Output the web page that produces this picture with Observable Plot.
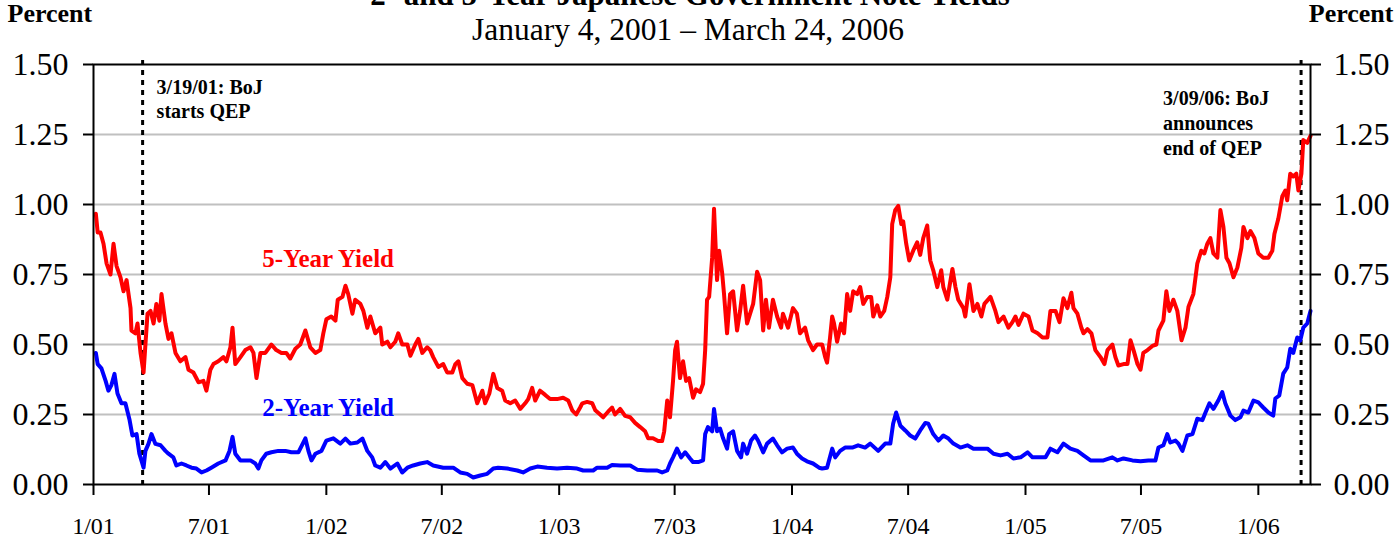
<!DOCTYPE html>
<html><head><meta charset="utf-8">
<script src="https://cdn.jsdelivr.net/npm/d3@7"></script>
<script src="https://cdn.jsdelivr.net/npm/@observablehq/plot@0.6"></script>
<style>body{margin:0;background:#fff}</style>
</head><body><div id="chart"></div>
<script>
// Dates are decimal years
const fiveYearT = [2001.010,2001.018,2001.030,2001.043,2001.056,2001.073,2001.086,2001.099,2001.116,2001.129,2001.142,2001.159,2001.163,2001.180,2001.189,2001.202,2001.215,2001.223,2001.232,2001.245,2001.258,2001.270,2001.283,2001.292,2001.309,2001.322,2001.335,2001.352,2001.373,2001.395,2001.408,2001.429,2001.451,2001.472,2001.485,2001.502,2001.515,2001.536,2001.558,2001.571,2001.588,2001.597,2001.609,2001.631,2001.652,2001.674,2001.687,2001.700,2001.717,2001.738,2001.764,2001.785,2001.807,2001.828,2001.845,2001.867,2001.888,2001.910,2001.931,2001.953,2001.974,2001.987,2002.000,2002.021,2002.039,2002.049,2002.069,2002.082,2002.094,2002.112,2002.124,2002.146,2002.159,2002.176,2002.189,2002.210,2002.232,2002.240,2002.262,2002.275,2002.296,2002.309,2002.326,2002.348,2002.361,2002.382,2002.395,2002.412,2002.433,2002.446,2002.459,2002.481,2002.502,2002.519,2002.541,2002.554,2002.567,2002.584,2002.605,2002.627,2002.648,2002.670,2002.682,2002.700,2002.717,2002.734,2002.755,2002.768,2002.790,2002.811,2002.833,2002.854,2002.867,2002.884,2002.897,2002.918,2002.940,2002.961,2002.991,2003.017,2003.039,2003.056,2003.073,2003.090,2003.099,2003.120,2003.142,2003.155,2003.176,2003.189,2003.210,2003.227,2003.240,2003.262,2003.283,2003.305,2003.326,2003.348,2003.369,2003.382,2003.403,2003.425,2003.442,2003.451,2003.464,2003.476,2003.489,2003.498,2003.506,2003.519,2003.532,2003.545,2003.558,2003.575,2003.588,2003.605,2003.618,2003.627,2003.635,2003.644,2003.657,2003.665,2003.674,2003.678,2003.687,2003.700,2003.708,2003.721,2003.734,2003.747,2003.764,2003.777,2003.790,2003.807,2003.820,2003.833,2003.850,2003.863,2003.876,2003.888,2003.901,2003.918,2003.936,2003.953,2003.961,2003.983,2004.004,2004.021,2004.034,2004.056,2004.069,2004.090,2004.107,2004.129,2004.142,2004.150,2004.163,2004.172,2004.180,2004.193,2004.210,2004.223,2004.236,2004.249,2004.262,2004.279,2004.292,2004.305,2004.322,2004.339,2004.348,2004.365,2004.378,2004.395,2004.408,2004.421,2004.429,2004.442,2004.455,2004.468,2004.476,2004.489,2004.502,2004.519,2004.536,2004.549,2004.562,2004.579,2004.592,2004.605,2004.622,2004.639,2004.648,2004.665,2004.687,2004.700,2004.712,2004.734,2004.742,2004.760,2004.777,2004.794,2004.811,2004.824,2004.850,2004.871,2004.884,2004.906,2004.927,2004.944,2004.957,2004.970,2004.991,2005.013,2005.030,2005.052,2005.073,2005.094,2005.107,2005.129,2005.146,2005.163,2005.180,2005.197,2005.206,2005.223,2005.240,2005.249,2005.266,2005.283,2005.300,2005.322,2005.339,2005.352,2005.373,2005.386,2005.399,2005.421,2005.438,2005.451,2005.464,2005.481,2005.494,2005.506,2005.524,2005.545,2005.562,2005.571,2005.592,2005.605,2005.618,2005.635,2005.652,2005.670,2005.687,2005.700,2005.721,2005.738,2005.755,2005.768,2005.781,2005.794,2005.807,2005.824,2005.837,2005.850,2005.863,2005.876,2005.893,2005.910,2005.927,2005.936,2005.953,2005.966,2005.983,2006.000,2006.021,2006.043,2006.060,2006.069,2006.086,2006.103,2006.116,2006.124,2006.137,2006.150,2006.163,2006.172,2006.185,2006.193,2006.210,2006.224];
const fiveYearV = [0.967,0.90,0.90,0.86,0.79,0.75,0.86,0.78,0.74,0.69,0.73,0.63,0.55,0.54,0.575,0.47,0.40,0.50,0.61,0.62,0.575,0.645,0.585,0.68,0.575,0.52,0.54,0.47,0.44,0.455,0.41,0.40,0.365,0.37,0.335,0.41,0.43,0.44,0.455,0.44,0.49,0.56,0.43,0.455,0.48,0.49,0.47,0.38,0.47,0.47,0.50,0.48,0.47,0.47,0.45,0.485,0.50,0.55,0.49,0.47,0.48,0.54,0.59,0.60,0.585,0.66,0.67,0.71,0.68,0.61,0.66,0.645,0.62,0.56,0.60,0.54,0.56,0.50,0.51,0.49,0.51,0.54,0.50,0.50,0.46,0.50,0.52,0.47,0.49,0.48,0.455,0.42,0.43,0.40,0.40,0.43,0.44,0.38,0.36,0.355,0.29,0.335,0.29,0.325,0.395,0.345,0.335,0.30,0.29,0.30,0.27,0.29,0.305,0.345,0.30,0.335,0.32,0.305,0.305,0.31,0.30,0.265,0.25,0.275,0.29,0.295,0.29,0.265,0.25,0.24,0.26,0.275,0.25,0.27,0.245,0.24,0.22,0.205,0.19,0.165,0.165,0.155,0.155,0.19,0.30,0.24,0.37,0.48,0.51,0.38,0.44,0.37,0.38,0.31,0.34,0.33,0.36,0.48,0.66,0.67,0.81,0.985,0.81,0.73,0.835,0.755,0.68,0.54,0.68,0.69,0.55,0.62,0.71,0.575,0.61,0.645,0.76,0.73,0.55,0.66,0.56,0.66,0.60,0.56,0.61,0.56,0.63,0.61,0.54,0.56,0.515,0.48,0.50,0.50,0.455,0.435,0.525,0.60,0.575,0.51,0.575,0.54,0.68,0.62,0.69,0.68,0.705,0.645,0.67,0.67,0.60,0.64,0.60,0.62,0.67,0.74,0.93,0.98,0.995,0.93,0.94,0.86,0.80,0.835,0.865,0.82,0.88,0.925,0.80,0.765,0.705,0.765,0.705,0.66,0.77,0.705,0.66,0.63,0.60,0.715,0.62,0.645,0.60,0.645,0.67,0.62,0.58,0.60,0.56,0.58,0.60,0.57,0.61,0.60,0.55,0.54,0.525,0.525,0.62,0.62,0.58,0.665,0.63,0.685,0.63,0.61,0.56,0.54,0.555,0.54,0.48,0.455,0.43,0.48,0.50,0.455,0.425,0.43,0.43,0.515,0.48,0.43,0.41,0.47,0.48,0.495,0.50,0.55,0.585,0.69,0.62,0.66,0.62,0.515,0.56,0.635,0.68,0.79,0.835,0.825,0.86,0.88,0.825,0.81,0.98,0.92,0.81,0.79,0.74,0.775,0.845,0.92,0.88,0.905,0.88,0.825,0.81,0.81,0.835,0.895,0.95,1.03,1.05,1.015,1.11,1.10,1.11,1.05,1.11,1.23,1.22,1.245];

const twoYearT = [2001.010,2001.018,2001.034,2001.052,2001.064,2001.077,2001.090,2001.103,2001.120,2001.137,2001.155,2001.167,2001.185,2001.197,2001.215,2001.223,2001.236,2001.249,2001.266,2001.288,2001.309,2001.322,2001.343,2001.356,2001.378,2001.399,2001.421,2001.442,2001.464,2001.485,2001.506,2001.536,2001.567,2001.584,2001.597,2001.609,2001.631,2001.652,2001.674,2001.695,2001.708,2001.721,2001.742,2001.764,2001.794,2001.824,2001.850,2001.880,2001.910,2001.923,2001.936,2001.953,2001.979,2002.000,2002.030,2002.060,2002.082,2002.103,2002.133,2002.155,2002.176,2002.197,2002.210,2002.232,2002.253,2002.275,2002.305,2002.326,2002.348,2002.373,2002.403,2002.433,2002.459,2002.502,2002.545,2002.575,2002.605,2002.631,2002.661,2002.691,2002.717,2002.738,2002.777,2002.820,2002.845,2002.876,2002.906,2002.948,2002.991,2003.034,2003.077,2003.103,2003.146,2003.163,2003.206,2003.227,2003.262,2003.305,2003.335,2003.378,2003.421,2003.442,2003.464,2003.476,2003.489,2003.506,2003.524,2003.541,2003.562,2003.575,2003.597,2003.618,2003.627,2003.639,2003.657,2003.665,2003.678,2003.691,2003.704,2003.721,2003.730,2003.747,2003.764,2003.781,2003.790,2003.807,2003.824,2003.841,2003.854,2003.876,2003.893,2003.918,2003.936,2003.957,2003.979,2004.004,2004.021,2004.043,2004.064,2004.090,2004.116,2004.129,2004.150,2004.172,2004.185,2004.206,2004.227,2004.258,2004.283,2004.313,2004.335,2004.369,2004.399,2004.421,2004.433,2004.446,2004.464,2004.485,2004.506,2004.528,2004.549,2004.571,2004.584,2004.605,2004.627,2004.648,2004.670,2004.691,2004.721,2004.751,2004.777,2004.807,2004.837,2004.863,2004.893,2004.923,2004.948,2004.979,2005.009,2005.030,2005.056,2005.086,2005.107,2005.137,2005.163,2005.193,2005.223,2005.249,2005.279,2005.309,2005.335,2005.373,2005.395,2005.421,2005.459,2005.494,2005.528,2005.558,2005.571,2005.592,2005.609,2005.622,2005.644,2005.657,2005.674,2005.695,2005.717,2005.738,2005.760,2005.773,2005.790,2005.807,2005.828,2005.845,2005.858,2005.880,2005.901,2005.923,2005.936,2005.957,2005.979,2006.000,2006.021,2006.043,2006.064,2006.073,2006.090,2006.107,2006.124,2006.137,2006.150,2006.167,2006.180,2006.193,2006.210,2006.224];
const twoYearV = [0.47,0.43,0.415,0.37,0.335,0.355,0.395,0.325,0.29,0.29,0.23,0.175,0.18,0.11,0.06,0.12,0.145,0.18,0.145,0.14,0.12,0.11,0.097,0.068,0.075,0.068,0.06,0.057,0.043,0.05,0.06,0.075,0.086,0.12,0.17,0.11,0.086,0.086,0.086,0.075,0.057,0.086,0.11,0.115,0.12,0.12,0.115,0.115,0.165,0.12,0.086,0.11,0.12,0.157,0.165,0.146,0.164,0.146,0.15,0.164,0.12,0.097,0.068,0.06,0.08,0.057,0.075,0.043,0.06,0.068,0.075,0.08,0.068,0.06,0.06,0.043,0.038,0.025,0.032,0.038,0.057,0.06,0.057,0.05,0.043,0.057,0.064,0.06,0.057,0.06,0.057,0.05,0.05,0.06,0.06,0.07,0.068,0.068,0.053,0.05,0.05,0.043,0.05,0.075,0.097,0.128,0.097,0.115,0.093,0.08,0.08,0.086,0.18,0.205,0.19,0.27,0.19,0.20,0.165,0.128,0.18,0.19,0.12,0.097,0.146,0.11,0.157,0.175,0.157,0.115,0.146,0.164,0.14,0.115,0.128,0.132,0.11,0.093,0.083,0.075,0.06,0.057,0.06,0.128,0.097,0.12,0.132,0.132,0.14,0.132,0.146,0.12,0.146,0.146,0.217,0.257,0.21,0.193,0.175,0.164,0.193,0.22,0.217,0.18,0.157,0.175,0.164,0.146,0.132,0.14,0.128,0.128,0.128,0.11,0.104,0.11,0.093,0.097,0.115,0.097,0.097,0.097,0.128,0.115,0.146,0.128,0.12,0.104,0.086,0.086,0.086,0.097,0.086,0.093,0.086,0.083,0.086,0.086,0.132,0.14,0.18,0.15,0.157,0.146,0.12,0.175,0.18,0.235,0.23,0.257,0.29,0.27,0.30,0.33,0.29,0.246,0.23,0.24,0.264,0.257,0.30,0.293,0.275,0.257,0.246,0.307,0.318,0.396,0.418,0.485,0.47,0.525,0.514,0.56,0.575,0.62];

const yTicks = [0, 0.25, 0.5, 0.75, 1.0, 1.25, 1.5];
const xTickDates = ["2001-01-01","2001-07-01","2002-01-01","2002-07-01","2003-01-01","2003-07-01","2004-01-01","2004-07-01","2005-01-01","2005-07-01","2006-01-01"];
const xTickLabels = ["1/01","7/01","1/02","7/02","1/03","7/03","1/04","7/04","1/05","7/05","1/06"];
const eventDates = ["2001-03-19", "2006-03-09"];
const eventLabels = ["3/19/01: BoJ\nstarts QEP", "3/09/06: BoJ\nannounces\nend of QEP"];
const seriesNames = ["5-Year Yield", "2-Year Yield"];
const titleText = "2- and 5-Year Japanese Government Note Yields";
const subtitleText = "January 4, 2001 \u2013 March 24, 2006";
const unitText = "Percent";

const toDate = y => {
  const yr = Math.floor(y);
  const s = Date.UTC(yr, 0, 1), e = Date.UTC(yr + 1, 0, 1);
  return new Date(s + (y - yr) * (e - s));
};
const fiveYear = fiveYearT.map((t, i) => ({date: toDate(t), value: fiveYearV[i]}));
const twoYear = twoYearT.map((t, i) => ({date: toDate(t), value: twoYearV[i]}));
const tickDates = xTickDates.map(d => new Date(d + "T00:00:00Z"));
const labelFor = new Map(tickDates.map((d, i) => [+d, xTickLabels[i]]));
const events = eventDates.map((d, i) => ({date: new Date(d + "T00:00:00Z"), label: eventLabels[i]}));

const font = "'Liberation Serif', 'Times New Roman', serif";

const chart = Plot.plot({
  width: 1396,
  height: 538,
  marginLeft: 93,
  marginRight: 86,
  marginTop: 64,
  marginBottom: 54,
  style: {fontFamily: font, background: "#fff", color: "#000"},
  x: {type: "utc", domain: [toDate(2001.0), toDate(2006.224)]},
  y: {domain: [0, 1.5]},
  marks: [
    Plot.gridY(yTicks.slice(1, -1), {stroke: "#c0c0c0", strokeOpacity: 1, strokeWidth: 2}),
    Plot.ruleX(events, {x: "date", stroke: "#000", strokeWidth: 3, strokeDasharray: "5,5", insetTop: -4, insetBottom: -6}),
    Plot.line(fiveYear, {x: "date", y: "value", stroke: "#ff0000", strokeWidth: 4, strokeLinejoin: "round"}),
    Plot.line(twoYear, {x: "date", y: "value", stroke: "#0000ff", strokeWidth: 4, strokeLinejoin: "round"}),
    Plot.frame({stroke: "#000", strokeWidth: 2}),
    Plot.axisY(yTicks, {anchor: "left", tickSize: 10, tickPadding: 15, strokeWidth: 2, fontSize: 32, tickFormat: d3.format(".2f"), label: null}),
    Plot.axisY(yTicks, {anchor: "right", tickSize: 10, tickPadding: 13, strokeWidth: 2, fontSize: 32, tickFormat: d3.format(".2f"), label: null}),
    Plot.axisX(tickDates, {anchor: "bottom", tickSize: 11, tickPadding: 21, strokeWidth: 2, fontSize: 24, tickFormat: d => labelFor.get(+d), label: null}),
    Plot.text([events[0]], {x: "date", frameAnchor: "top", text: "label", textAnchor: "start", lineAnchor: "top", dx: 14, dy: 12, fontSize: 20, fontWeight: "bold", lineHeight: 1.2, fill: "#000"}),
    Plot.text([events[1]], {x: "date", frameAnchor: "top", text: "label", textAnchor: "start", lineAnchor: "top", dx: -138, dy: 23, fontSize: 20, fontWeight: "bold", lineHeight: 1.25, fill: "#000"}),
    Plot.text([seriesNames[0]], {x: toDate(2001.725), y: 0.805, text: d => d, textAnchor: "start", lineAnchor: "middle", fontSize: 25, fontWeight: "bold", fill: "#ff0000"}),
    Plot.text([seriesNames[1]], {x: toDate(2001.725), y: 0.275, text: d => d, textAnchor: "start", lineAnchor: "middle", fontSize: 25, fontWeight: "bold", fill: "#0000ff"}),
    Plot.text([titleText], {frameAnchor: "top", text: d => d, lineAnchor: "bottom", dx: -12, dy: -60, fontSize: 31, fontWeight: "bold", fill: "#000"}),
    Plot.text([subtitleText], {frameAnchor: "top", text: d => d, lineAnchor: "bottom", dx: -14, dy: -25, fontSize: 31.5, fill: "#000"}),
    Plot.text([unitText], {frameAnchor: "top-left", text: d => d, textAnchor: "start", lineAnchor: "bottom", dx: -86, dy: -43, fontSize: 26, fontWeight: "bold", fill: "#000"}),
    Plot.text([unitText], {frameAnchor: "top-right", text: d => d, textAnchor: "end", lineAnchor: "bottom", dx: 83, dy: -43, fontSize: 26, fontWeight: "bold", fill: "#000"})
  ]
});
document.getElementById("chart").appendChild(chart);
</script>
</body></html>
